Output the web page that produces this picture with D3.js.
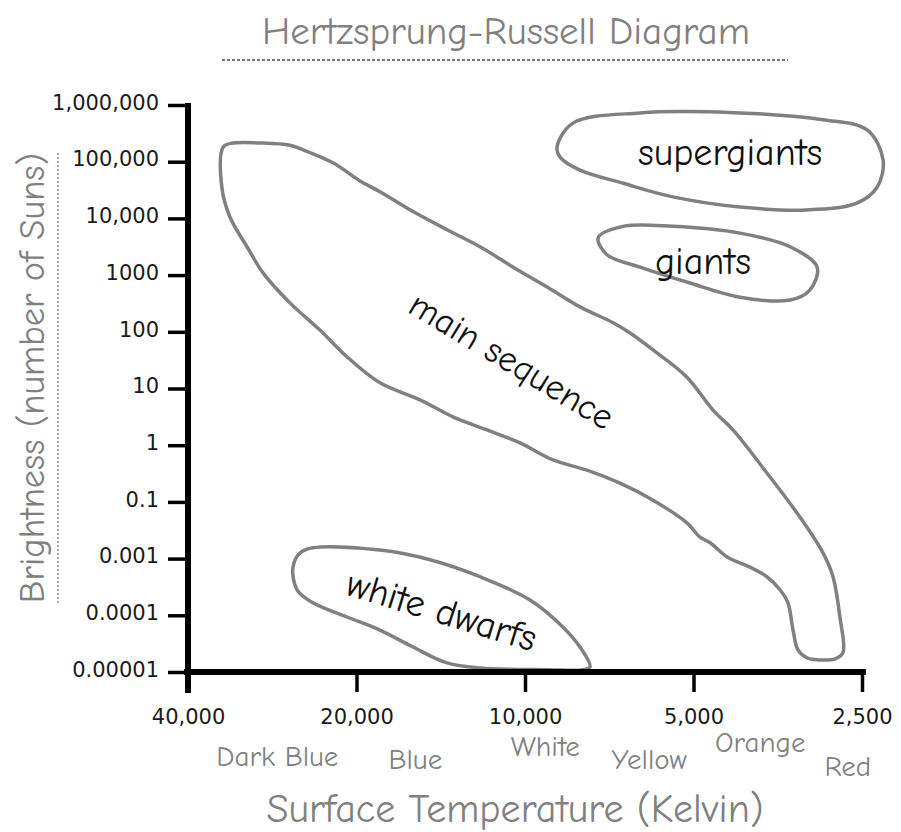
<!DOCTYPE html>
<html>
<head>
<meta charset="utf-8">
<script src="https://cdn.jsdelivr.net/npm/d3@7"></script>
<style>
  html, body { margin: 0; padding: 0; background: #fff; }
  svg { display: block; }
</style>
</head>
<body>
<div id="chart"></div>
<script>
// Surface temperature ticks (Kelvin), hot on the left
const tempTicks = [40000, 20000, 10000, 5000, 2500];

// Brightness ticks as log10(number of Suns) -- the picture skips 0.01
const brightLogs = [-5, -4, -3, -1, 0, 1, 2, 3, 4, 5, 6];
const brightLabels = ['0.00001', '0.0001', '0.001', '0.1', '1', '10', '100', '1000', '10,000', '100,000', '1,000,000'];

// star colour under the temperature axis
const colorNames = ['Dark Blue', 'Blue', 'White', 'Yellow', 'Orange', 'Red'];
const colorTemps = [27700, 15700, 9200, 6000, 3800, 2650];

// region outlines: [temperature K, log10 brightness]
const mainSequence = [
  [34600, 5.26], [33240, 5.33], [29750, 5.33], [26300, 5.29], [24920, 5.21], [22030, 4.98],
  [19710, 4.66], [18160, 4.47], [15850, 4.12], [13780, 3.80], [12030, 3.50], [10500, 3.14],
  [9130, 2.79], [7975, 2.44], [6960, 2.16], [6490, 1.98], [5905, 1.68], [5137, 1.20],
  [4615, 0.62], [4250, 0.27], [3697, -0.49], [3226, -1.54], [2935, -2.8], [2817, -3.32],
  [2738, -4.03], [2704, -4.66], [2793, -4.77], [2888, -4.79], [3135, -4.75], [3253, -4.61],
  [3320, -4.26], [3390, -3.78], [3503, -3.55], [3697, -3.32], [3965, -3.15], [4355, -2.94],
  [4670, -2.44], [4870, -2.24], [5137, -1.74], [5905, -0.97], [6765, -0.67], [7750, -0.44],
  [8910, -0.26], [10210, 0.04], [11690, 0.27], [13450, 0.50], [15400, 0.80], [18160, 1.10],
  [20800, 1.56], [23250, 2.03], [26300, 2.51], [29380, 3.04], [31380, 3.50], [33650, 4.02],
  [34800, 4.55]
];
const supergiants = [
  [8766, 5.26], [8208, 5.68], [6230, 5.86], [4128, 5.86], [2935, 5.74], [2448, 5.56],
  [2292, 5.03], [2350, 4.55], [2553, 4.27], [3135, 4.15], [4128, 4.20], [5442, 4.38],
  [6682, 4.62], [7975, 4.85], [8658, 5.08]
];
const giants = [
  [7400, 3.66], [6682, 3.86], [5442, 3.86], [4128, 3.74], [3361, 3.50], [3007, 3.14],
  [3096, 2.74], [3361, 2.56], [4128, 2.61], [5073, 2.86], [6230, 3.14], [7137, 3.36]
];
const whiteDwarfs = [
  [25230, -2.8], [23920, -2.62], [18160, -2.7], [14780, -3.02], [12030, -3.32], [9797, -3.73],
  [8551, -4.21], [7975, -4.56], [7653, -4.91], [7877, -4.96], [9130, -4.96], [12030, -4.93],
  [13780, -4.84], [15850, -4.56], [18160, -4.26], [20800, -4.03], [23920, -3.78], [25540, -3.55],
  [25970, -3.15]
];

const regionNames = ['main sequence', 'supergiants', 'giants', 'white dwarfs'];
const regionShapes = [mainSequence, supergiants, giants, whiteDwarfs];
// where each name sits: [temperature K, log10 brightness]
const regionLabelAt = [[10550, 1.5], [4300, 4.94], [4810, 3.02], [14070, -3.91]];

const W = 901, H = 832;
const xLeft = 188, xRight = 862, yTop = 105, yBottom = 672;
const comic = '"Comic Sans MS", "Comic Neue", "DejaVu Sans", sans-serif';
const grey = '#808080';

const svg = d3.select('#chart').append('svg')
    .attr('width', W)
    .attr('height', H)
    .style('background', '#fff');

// --- scales ---
const x = d3.scaleLog().domain([40000, 2500]).range([xLeft, xRight]);
const slot = d3.scaleLinear().domain([0, brightLogs.length - 1]).range([yBottom, yTop]);
const y = d3.scaleLinear().domain(brightLogs).range(brightLogs.map((d, i) => slot(i)));

// --- regions ---
const line = d3.line()
    .x(d => x(d[0]))
    .y(d => y(d[1]))
    .curve(d3.curveCatmullRomClosed.alpha(0.5));

svg.append('g').selectAll('path')
    .data(regionShapes)
    .join('path')
    .attr('d', line)
    .attr('fill', 'none')
    .attr('stroke', grey)
    .attr('stroke-width', 3.5)
    .attr('stroke-linejoin', 'round');

const labelStyle = [
  { size: 36, angle: 31, dy: '0.35em' },
  { size: 38, angle: 0, dy: 0 },
  { size: 38, angle: 0, dy: 0 },
  { size: 38, angle: 17, dy: '0.35em' }
];
svg.append('g').selectAll('text')
    .data(regionNames)
    .join('text')
    .attr('transform', (d, i) => {
      const p = regionLabelAt[i];
      return `translate(${x(p[0])},${y(p[1])}) rotate(${labelStyle[i].angle})`;
    })
    .attr('dy', (d, i) => labelStyle[i].dy)
    .attr('text-anchor', 'middle')
    .attr('font-family', comic)
    .attr('font-size', (d, i) => labelStyle[i].size)
    .attr('fill', '#111')
    .text(d => d);

// --- axes ---
const yAxisG = svg.append('g')
    .attr('transform', `translate(${xLeft},0)`)
    .call(d3.axisLeft(y)
        .tickValues(brightLogs)
        .tickFormat(d => brightLabels[brightLogs.indexOf(d)])
        .tickSize(20)
        .tickPadding(9)
        .tickSizeOuter(0));
yAxisG.select('.domain').remove();
yAxisG.selectAll('.tick line').attr('stroke', '#000').attr('stroke-width', 3.5);
yAxisG.selectAll('.tick text')
    .attr('font-family', '"DejaVu Sans", Verdana, sans-serif')
    .attr('font-size', 21)
    .attr('fill', '#1a1a1a')
    .attr('dy', '0.2em');

const xAxisG = svg.append('g')
    .attr('transform', `translate(0,${yBottom})`)
    .call(d3.axisBottom(x)
        .tickValues(tempTicks)
        .tickFormat(d3.format(','))
        .tickSize(20)
        .tickPadding(17)
        .tickSizeOuter(0));
xAxisG.select('.domain').remove();
xAxisG.selectAll('.tick line').attr('stroke', '#000').attr('stroke-width', 3.5);
xAxisG.selectAll('.tick text')
    .attr('font-family', '"DejaVu Sans", Verdana, sans-serif')
    .attr('font-size', 21)
    .attr('fill', '#1a1a1a');

// thick axis lines, y axis pokes below the x axis
svg.append('line')
    .attr('x1', xLeft).attr('x2', xLeft)
    .attr('y1', yTop - 2).attr('y2', yBottom + 21)
    .attr('stroke', '#000').attr('stroke-width', 6);
svg.append('line')
    .attr('x1', xLeft - 4).attr('x2', xRight + 4)
    .attr('y1', yBottom).attr('y2', yBottom)
    .attr('stroke', '#000').attr('stroke-width', 6);

// colour words, staggered like the sketch
const colorDy = [94, 97, 84, 97, 80, 104];
svg.append('g').selectAll('text')
    .data(colorNames)
    .join('text')
    .attr('x', (d, i) => x(colorTemps[i]))
    .attr('y', (d, i) => yBottom + colorDy[i])
    .attr('text-anchor', 'middle')
    .attr('font-family', comic)
    .attr('font-size', 29)
    .attr('fill', grey)
    .text(d => d);

// --- titles ---
svg.append('text')
    .attr('x', 506).attr('y', 44)
    .attr('text-anchor', 'middle')
    .attr('font-family', comic)
    .attr('font-size', 39)
    .attr('fill', grey)
    .text('Hertzsprung-Russell Diagram');
svg.append('line')
    .attr('x1', 222).attr('x2', 788)
    .attr('y1', 60).attr('y2', 60)
    .attr('stroke', '#444').attr('stroke-width', 1.5)
    .attr('stroke-dasharray', '3,2');

svg.append('text')
    .attr('x', 515).attr('y', 822)
    .attr('text-anchor', 'middle')
    .attr('font-family', comic)
    .attr('font-size', 40)
    .attr('fill', grey)
    .text('Surface Temperature (Kelvin)');

svg.append('text')
    .attr('transform', 'translate(44,378) rotate(-90)')
    .attr('text-anchor', 'middle')
    .attr('font-family', comic)
    .attr('font-size', 36.5)
    .attr('fill', grey)
    .text('Brightness (number of Suns)');
svg.append('line')
    .attr('x1', 58).attr('x2', 58)
    .attr('y1', 153).attr('y2', 605)
    .attr('stroke', '#777').attr('stroke-width', 1.2)
    .attr('stroke-dasharray', '2,2');
</script>
</body>
</html>
